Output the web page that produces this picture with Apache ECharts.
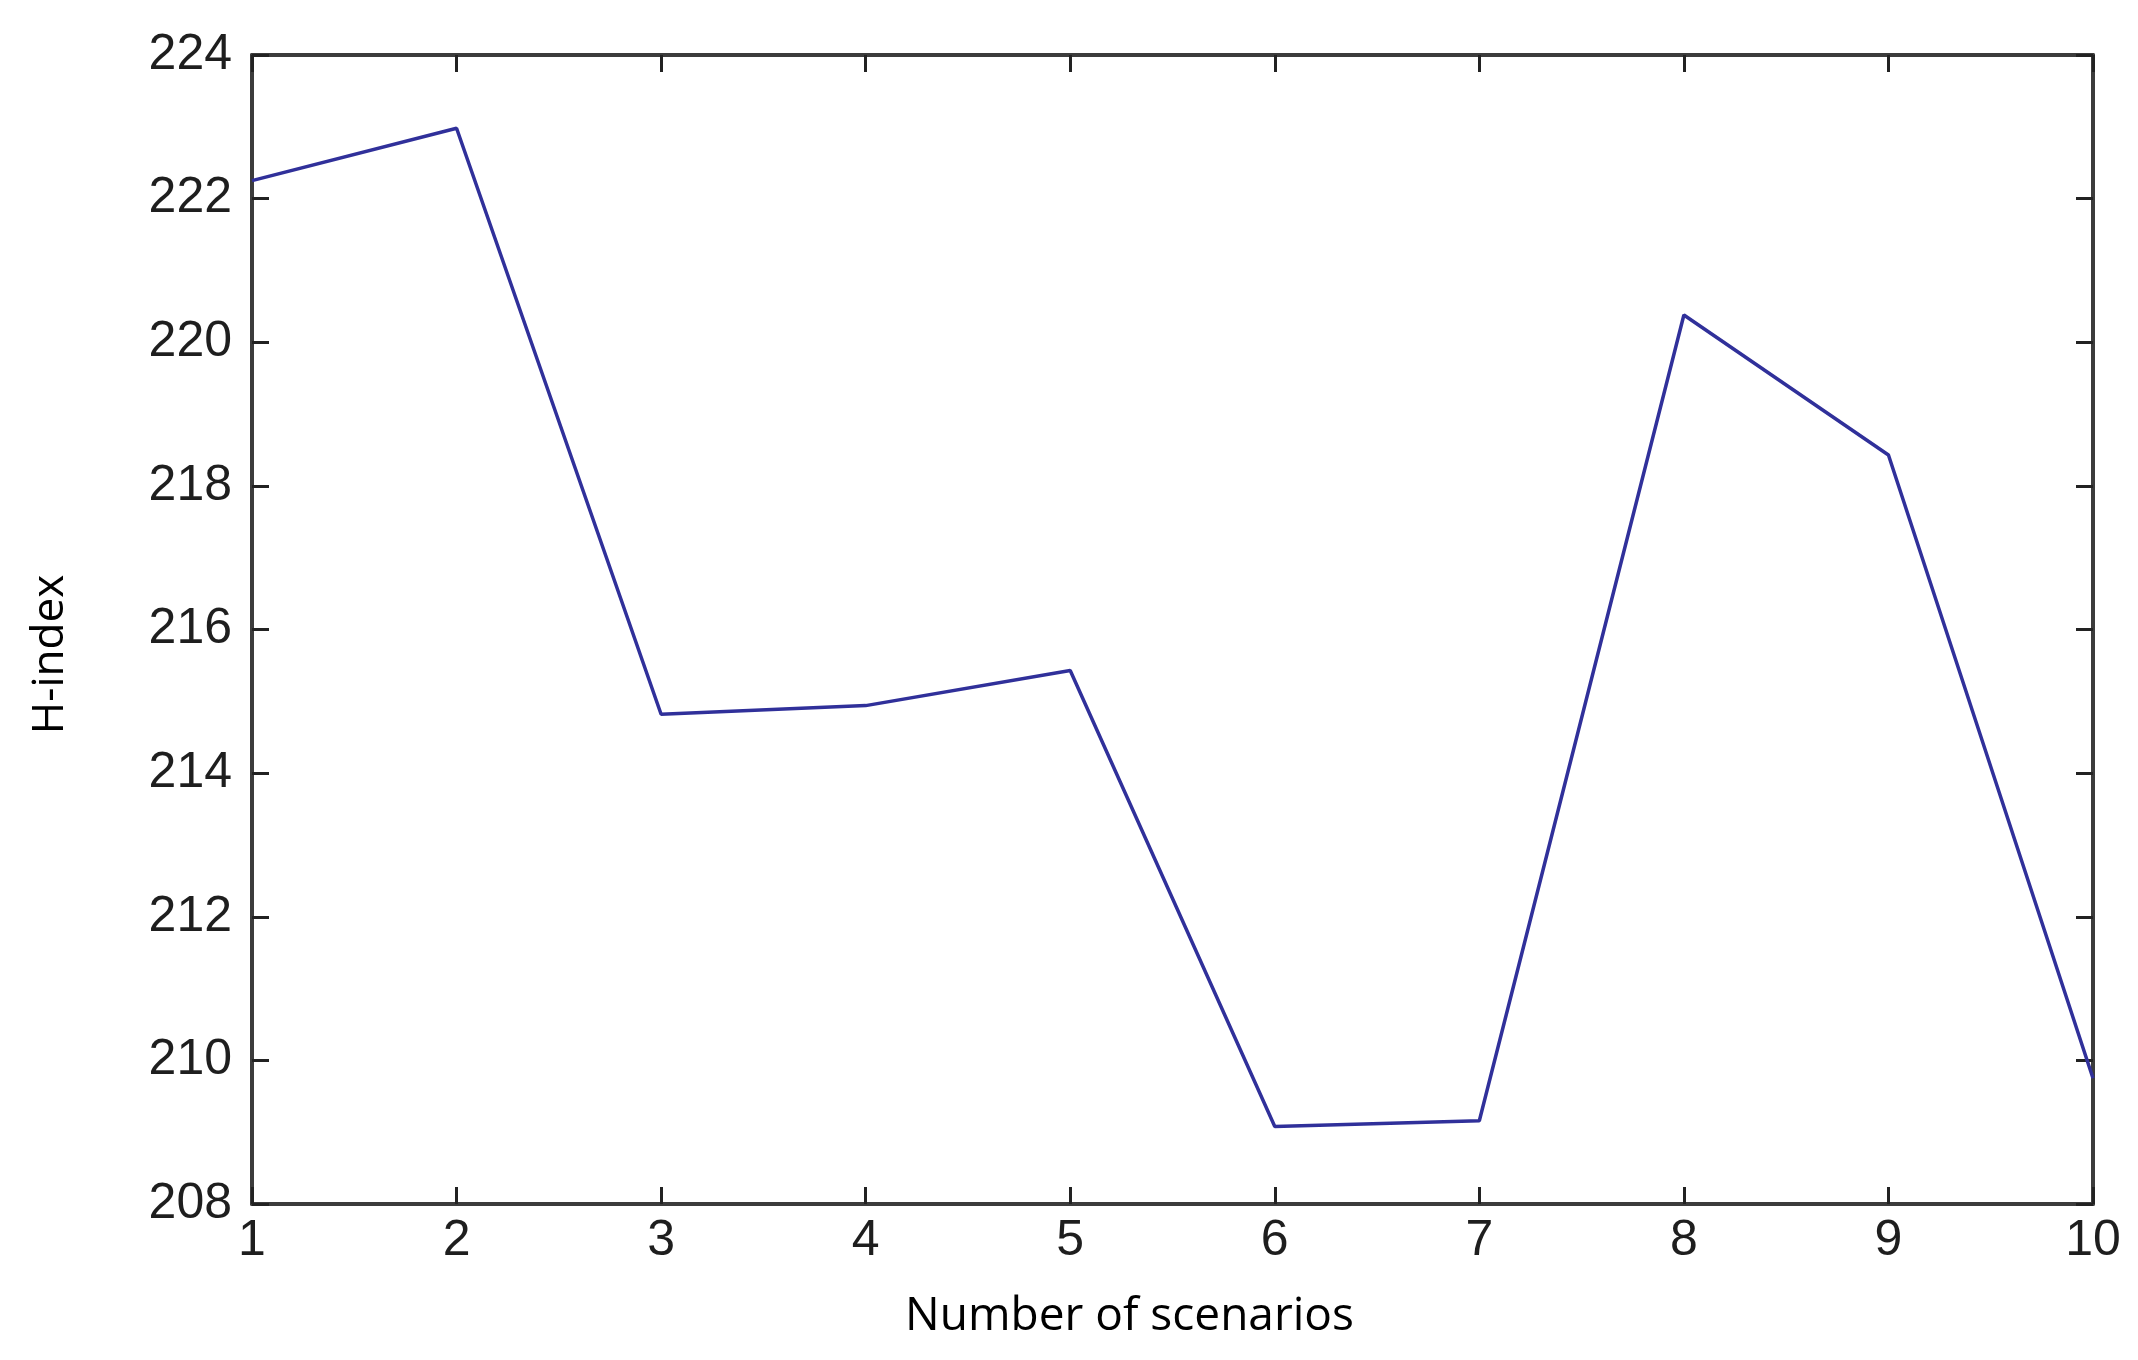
<!DOCTYPE html>
<html>
<head>
<meta charset="utf-8">
<script src="https://cdn.jsdelivr.net/npm/echarts@6/dist/echarts.min.js"></script>
<style>
html,body{margin:0;padding:0;background:#fff;}
#chart{width:2138px;height:1360px;}
</style>
</head>
<body>
<div id="chart"></div>
<script>
// Data
const scenarios = [1, 2, 3, 4, 5, 6, 7, 8, 9, 10];
const hIndex = [222.25, 222.98, 214.82, 214.94, 215.43, 209.08, 209.16, 220.38, 218.43, 209.75];
const xTicks = [1, 2, 3, 4, 5, 6, 7, 8, 9, 10];
const yTicks = [208, 210, 212, 214, 216, 218, 220, 222, 224];

const chart = echarts.init(document.getElementById('chart'), null, {renderer: 'canvas'});

const axisColor = '#3c3c3c';
const tickFont = {fontFamily: 'Liberation Sans', fontSize: 50, color: '#1e1e1e'};

const option = {
  animation: false,
  backgroundColor: '#ffffff',
  grid: {left: 252, right: 45, top: 55, bottom: 156, containLabel: false},
  xAxis: [
    {
      type: 'value', min: xTicks[0], max: xTicks[xTicks.length - 1], interval: 1,
      position: 'bottom',
      name: 'Number of scenarios', nameLocation: 'middle', nameGap: 90,
      nameTextStyle: {fontFamily: 'Open Sans', fontSize: 46, color: '#000', padding: [0, 86, 0, 0]},
      axisLine: {show: true, lineStyle: {color: axisColor, width: 4}},
      axisTick: {show: true, inside: true, length: 17, lineStyle: {color: '#222', width: 3}},
      axisLabel: Object.assign({margin: 12}, tickFont),
      splitLine: {show: false}
    },
    {
      type: 'value', min: xTicks[0], max: xTicks[xTicks.length - 1], interval: 1,
      position: 'top',
      axisLine: {show: true, lineStyle: {color: axisColor, width: 4}},
      axisTick: {show: true, inside: true, length: 17, lineStyle: {color: '#222', width: 3}},
      axisLabel: {show: false},
      splitLine: {show: false}
    }
  ],
  yAxis: [
    {
      type: 'value', min: yTicks[0], max: yTicks[yTicks.length - 1], interval: 2,
      position: 'left',
      name: 'H-index', nameLocation: 'middle', nameGap: 180, nameRotate: 90,
      nameTextStyle: {fontFamily: 'Open Sans', fontSize: 44, color: '#000', padding: [0, 50, 0, 0]},
      axisLine: {show: true, lineStyle: {color: axisColor, width: 4}},
      axisTick: {show: true, inside: true, length: 17, lineStyle: {color: '#222', width: 3}},
      axisLabel: Object.assign({margin: 20}, tickFont),
      splitLine: {show: false}
    },
    {
      type: 'value', min: yTicks[0], max: yTicks[yTicks.length - 1], interval: 2,
      position: 'right',
      axisLine: {show: true, lineStyle: {color: axisColor, width: 4}},
      axisTick: {show: true, inside: true, length: 17, lineStyle: {color: '#222', width: 3}},
      axisLabel: {show: false},
      splitLine: {show: false}
    }
  ],
  series: [
    {
      type: 'line',
      xAxisIndex: 0, yAxisIndex: 0,
      data: scenarios.map((s, i) => [s, hIndex[i]]),
      showSymbol: false,
      symbol: 'none',
      lineStyle: {color: '#30309a', width: 3.5},
      itemStyle: {color: '#30309a'},
      clip: false
    }
  ]
};

chart.setOption(option);
</script>
</body>
</html>
